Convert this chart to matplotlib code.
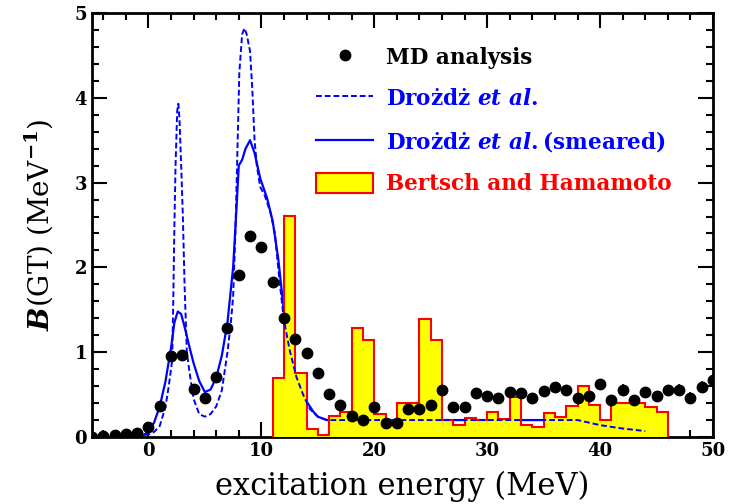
import numpy as np
import matplotlib
matplotlib.use("Agg")
import matplotlib.pyplot as plt
from matplotlib.lines import Line2D
from matplotlib.patches import Patch

plt.rcParams['font.family'] = 'DejaVu Serif'
plt.rcParams['font.weight'] = 'bold'
plt.rcParams['mathtext.fontset'] = 'custom'
plt.rcParams['mathtext.rm'] = 'DejaVu Serif:bold'
plt.rcParams['mathtext.it'] = 'DejaVu Serif:italic:bold'
plt.rcParams['mathtext.bf'] = 'DejaVu Serif:bold'

# MD analysis points
md_x = list(range(-5, 51))
md_y = [0.0, 0.01, 0.02, 0.03, 0.05,
        0.12, 0.37, 0.96, 0.97, 0.57, 0.46, 0.71, 1.29, 1.91, 2.37,
        2.24, 1.83, 1.40, 1.16, 0.99, 0.75, 0.51, 0.38, 0.25, 0.20,
        0.35, 0.16, 0.16, 0.33, 0.33, 0.38, 0.55, 0.35, 0.35, 0.52,
        0.48, 0.46, 0.53, 0.52, 0.46, 0.54, 0.59, 0.56, 0.46, 0.48,
        0.63, 0.44, 0.56, 0.44, 0.53, 0.48, 0.55, 0.55, 0.46, 0.59, 0.67]
md_err = [0.0] * 43 + [0.05, 0.05, 0.06, 0.05, 0.06, 0.06, 0.06,
                       0.06, 0.06, 0.07, 0.07, 0.07, 0.07]

# Drozdz et al. (dashed)
dash_x = [-5, -2, -1, 0, 0.5, 1.0, 1.5, 1.8, 2.0, 2.1, 2.2, 2.3, 2.4, 2.55, 2.65,
          2.75, 2.9, 3.05, 3.2, 3.4, 3.7, 4.0, 4.5, 5.0, 5.5, 6.0, 6.5, 7.0, 7.3,
          7.5, 7.7, 7.85, 8.05, 8.3, 8.5, 8.7, 9.0, 9.2, 9.4, 9.6, 9.9, 10.3, 10.8,
          11.2, 11.6, 12.0, 12.5, 13.1, 13.7, 14.3, 15.0, 15.8, 17, 20, 25, 30,
          35, 38, 40, 42, 44]
dash_y = [0.0, 0.0, 0.01, 0.03, 0.06, 0.13, 0.35, 0.6, 0.8, 0.9, 1.6, 2.5, 3.2, 3.85, 3.93,
          3.75, 3.2, 2.6, 1.8, 1.0, 0.71, 0.45, 0.27, 0.24, 0.27, 0.36, 0.55, 1.0, 1.35,
          1.65, 2.4, 3.2, 4.3, 4.75, 4.82, 4.75, 4.55, 4.1, 3.5, 3.2, 2.95, 2.85, 2.65,
          2.4, 1.85, 1.38, 1.03, 0.71, 0.50, 0.33, 0.24, 0.20, 0.20, 0.20, 0.20, 0.20,
          0.20, 0.20, 0.14, 0.10, 0.07]

# Drozdz et al. (smeared)
sm_x = [-5, -2, -1, -0.5, 0, 0.5, 1.0, 1.5, 2.0, 2.3, 2.6, 2.9, 3.2, 3.6, 4.0, 4.5,
        5.0, 5.5, 6.0, 6.5, 7.0, 7.5, 7.8, 8.0, 8.3, 8.6, 9.0, 9.4, 9.9, 10.5, 11.0,
        11.5, 11.8, 12.1, 12.5, 13.0, 13.5, 14.1, 14.6, 15.0, 15.8, 17, 20, 25, 30,
        35, 38]
sm_y = [0.0, 0.0, 0.01, 0.02, 0.06, 0.17, 0.36, 0.65, 1.05, 1.35, 1.48, 1.45, 1.3, 1.08,
        0.87, 0.66, 0.53, 0.56, 0.70, 0.96, 1.35, 2.0, 2.7, 3.2, 3.27, 3.4, 3.5, 3.35,
        3.05, 2.82, 2.55, 2.1, 1.73, 1.34, 1.05, 0.72, 0.55, 0.40, 0.30, 0.24, 0.20,
        0.20, 0.20, 0.20, 0.20, 0.20, 0.20]

# Bertsch and Hamamoto histogram
bh_edges = list(range(11, 47))
bh_vals = [0.70, 2.61, 0.76, 0.09, 0.02, 0.25, 0.30, 1.29, 1.14, 0.27,
           0.20, 0.40, 0.40, 1.39, 1.14, 0.20, 0.14, 0.22, 0.20, 0.29,
           0.21, 0.47, 0.14, 0.12, 0.28, 0.24, 0.36, 0.60, 0.38, 0.20,
           0.40, 0.40, 0.40, 0.35, 0.30]

fig = plt.figure(figsize=(7.34, 5.04), dpi=100)
ax = fig.add_axes([0.1253, 0.1329, 0.8461, 0.8413])

ax.plot(sm_x, sm_y, color='#0000ff', lw=1.6, zorder=2)
ax.stairs(bh_vals, bh_edges, fill=True, facecolor='#ffff00', edgecolor='none', zorder=3)
ax.stairs(bh_vals, bh_edges, baseline=0, fill=False, edgecolor='#ff0000', lw=1.5, zorder=3.5)
ax.plot(dash_x, dash_y, color='#0000ff', lw=1.4, ls=(0, (3, 1.5)), zorder=4)
ax.errorbar(md_x, md_y, yerr=md_err, fmt='o', color='black', ms=7.5,
            elinewidth=1.2, capsize=0, zorder=5)

ax.set_xlim(-5, 50)
ax.set_ylim(0, 5)
ax.set_xticks([0, 10, 20, 30, 40, 50])
ax.set_xticks(np.arange(-4, 50, 2), minor=True)
ax.set_yticks([0, 1, 2, 3, 4, 5])
ax.set_yticks(np.arange(0, 5.01, 0.2), minor=True)
ax.tick_params(which='both', direction='in', top=True, right=True, width=1.5, labelsize=13)
ax.tick_params(which='major', length=11)
ax.tick_params(which='minor', length=5)
for s in ax.spines.values():
    s.set_linewidth(2)

ax.set_xlabel('excitation energy (MeV)', fontsize=22, labelpad=8)
ax.set_ylabel(r'$\mathit{B}$(GT) (MeV$^{-1}$)', fontsize=20, labelpad=14)

handles = [
    Line2D([], [], marker='o', color='black', ls='none', ms=7.5),
    Line2D([], [], color='#0000ff', lw=1.4, ls=(0, (3, 1.5))),
    Line2D([], [], color='#0000ff', lw=1.6),
    Patch(facecolor='#ffff00', edgecolor='#ff0000', lw=1.5),
]
labels = ['MD analysis', r'Drożdż $\mathit{et\ al.}$',
          r'Drożdż $\mathit{et\ al.}$(smeared)', 'Bertsch and Hamamoto']
leg = ax.legend(handles, labels, loc='upper left', bbox_to_anchor=(0.361, 0.922),
                frameon=False, fontsize=15.5, handlelength=2.65, handleheight=1.07,
                labelspacing=0.88, handletextpad=0.6, borderpad=0, borderaxespad=0)
for t, c in zip(leg.get_texts(), ['black', '#0000ff', '#0000ff', '#ff0000']):
    t.set_color(c)

fig.savefig('out.png', dpi=100)
